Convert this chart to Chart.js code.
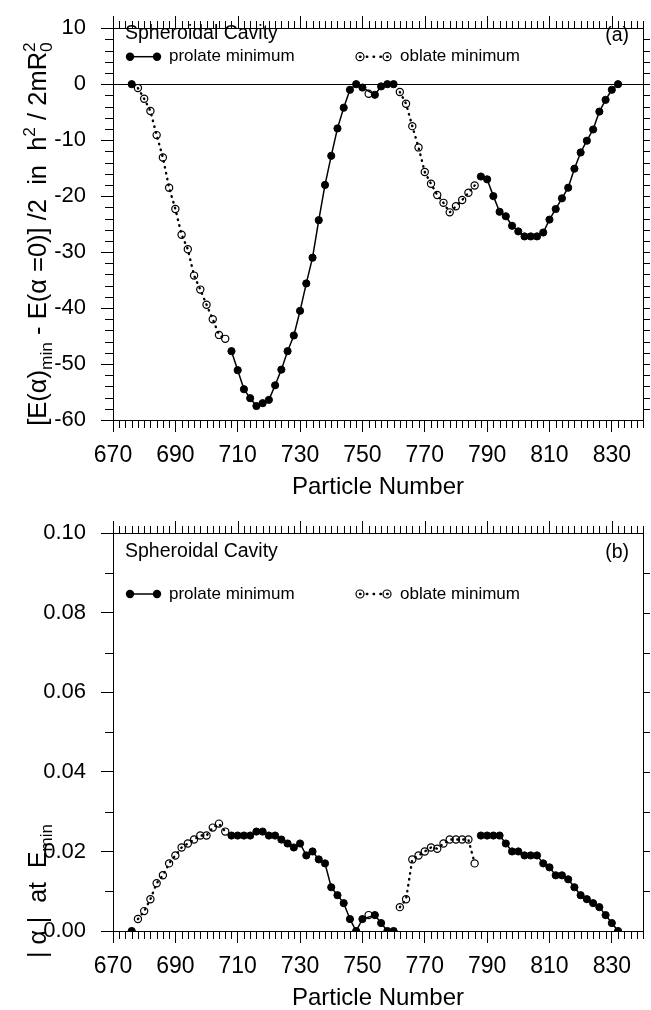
<!DOCTYPE html>
<html><head><meta charset="utf-8">
<script src="https://cdn.jsdelivr.net/npm/chart.js@4.4.1/dist/chart.umd.min.js"></script>
<style>
html,body{margin:0;padding:0;background:#fff;}
#wrap{position:relative;width:651px;height:1010px;overflow:hidden;}
canvas{position:absolute;left:0;}
</style></head><body>
<div id="wrap">
<canvas id="c1" width="651" height="510" style="top:0;width:651px;height:510px"></canvas>
<canvas id="c2" width="651" height="530" style="top:480px;width:651px;height:530px"></canvas>
</div>
<script>
// ---------- data ----------
const particleTicks = [670, 690, 710, 730, 750, 770, 790, 810, 830];
const energyTicks = [10, 0, -10, -20, -30, -40, -50, -60];
const alphaTicks = [0.00, 0.02, 0.04, 0.06, 0.08, 0.10];

// (a) energy, prolate minimum
const energyProlateN = [676, 708, 710, 712, 714, 716, 718, 720, 722, 724, 726, 728, 730, 732, 734, 736, 738, 740, 742, 744, 746, 748, 750, 754, 756, 758, 760,
  788, 790, 792, 794, 796, 798, 800, 802, 804, 806, 808, 810, 812, 814, 816, 818, 820, 822, 824, 826, 828, 830, 832];
const energyProlate = [0, -47.7, -51.1, -54.5, -56.1, -57.5, -57.0, -56.4, -53.8, -51.0, -47.7, -44.9, -40.5, -35.6, -31.0, -24.3, -18.0, -12.8, -7.9, -4.2, -1.0, 0, -0.6, -1.9, -0.4, 0, 0,
  -16.5, -17.0, -20.0, -22.8, -23.6, -25.3, -26.3, -27.2, -27.2, -27.2, -26.5, -24.2, -22.3, -20.4, -18.5, -15.1, -12.2, -10.1, -8.1, -4.9, -2.8, -1.0, 0];
// (a) energy, oblate minimum
const energyOblateN = [678, 680, 682, 684, 686, 688, 690, 692, 694, 696, 698, 700, 702, 704, 706, 752,
  762, 764, 766, 768, 770, 772, 774, 776, 778, 780, 782, 784, 786];
const energyOblate = [-0.7, -2.6, -4.8, -9.1, -13.1, -18.5, -22.3, -26.9, -29.5, -34.2, -36.7, -39.4, -42.0, -44.8, -45.5, -1.7,
  -1.4, -3.5, -7.5, -11.3, -15.7, -17.8, -19.8, -21.2, -22.9, -21.8, -20.7, -19.4, -18.1];

// (b) |alpha| at Emin, prolate minimum
const alphaProlateN = [676, 708, 710, 712, 714, 716, 718, 720, 722, 724, 726, 728, 730, 732, 734, 736, 738, 740, 742, 744, 746, 748, 750, 754, 756, 758, 760,
  788, 790, 792, 794, 796, 798, 800, 802, 804, 806, 808, 810, 812, 814, 816, 818, 820, 822, 824, 826, 828, 830, 832];
const alphaProlate = [0, 0.024, 0.024, 0.024, 0.024, 0.025, 0.025, 0.024, 0.024, 0.023, 0.022, 0.021, 0.022, 0.019, 0.020, 0.018, 0.017, 0.011, 0.009, 0.007, 0.003, 0, 0.003, 0.004, 0.002, 0, 0,
  0.024, 0.024, 0.024, 0.024, 0.022, 0.020, 0.020, 0.019, 0.019, 0.019, 0.017, 0.016, 0.014, 0.014, 0.013, 0.011, 0.009, 0.008, 0.007, 0.006, 0.004, 0.002, 0];
// (b) |alpha| at Emin, oblate minimum
const alphaOblateN = [678, 680, 682, 684, 686, 688, 690, 692, 694, 696, 698, 700, 702, 704, 706, 752,
  762, 764, 766, 768, 770, 772, 774, 776, 778, 780, 782, 784, 786];
const alphaOblate = [0.003, 0.005, 0.008, 0.012, 0.014, 0.017, 0.019, 0.021, 0.022, 0.023, 0.024, 0.024, 0.026, 0.027, 0.025, 0.004,
  0.006, 0.008, 0.018, 0.019, 0.020, 0.021, 0.0207, 0.022, 0.023, 0.023, 0.023, 0.023, 0.017];

// ---------- helpers ----------
const FONT = '"Liberation Sans", Arial, Helvetica, sans-serif';
const pts = (xs, ys) => xs.map((x, i) => ({x: x, y: ys[i]}));

function prolateDs(xs, ys) {
  return {label: 'prolate minimum', data: pts(xs, ys), borderColor: '#000', borderWidth: 1.5,
    pointRadius: 3.6, pointBackgroundColor: '#000', pointBorderColor: '#000', pointBorderWidth: 1,
    spanGaps: 5, tension: 0, fill: false};
}
function oblateDs(xs, ys) {
  return {label: 'oblate minimum', data: pts(xs, ys), borderColor: '#000', borderWidth: 2.4,
    borderDash: [0.5, 5.5], borderCapStyle: 'round',
    pointRadius: 3.6, pointBackgroundColor: 'rgba(255,255,255,0)', pointBorderColor: '#000', pointBorderWidth: 1.2,
    spanGaps: 5, tension: 0, fill: false};
}

function line(ctx, x1, y1, x2, y2) { ctx.beginPath(); ctx.moveTo(x1, y1); ctx.lineTo(x2, y2); ctx.stroke(); }
const al = v => Math.round(v) + 0.5;

function richWidth(ctx, segs, size) {
  let w = 0;
  for (const s of segs) {
    if (s.k === 'n') { ctx.font = size + 'px ' + FONT; w += ctx.measureText(s.t).width; }
    else if (s.k === 'subsup') { ctx.font = (size * 0.68) + 'px ' + FONT; w += Math.max(ctx.measureText(s.t).width, ctx.measureText(s.t2).width); }
    else { ctx.font = (size * 0.68) + 'px ' + FONT; w += ctx.measureText(s.t).width; }
  }
  return w;
}
function drawRich(ctx, segs, size, x, y) {
  ctx.textBaseline = 'alphabetic'; ctx.textAlign = 'left';
  for (const s of segs) {
    if (s.k === 'n') { ctx.font = size + 'px ' + FONT; ctx.fillText(s.t, x, y); x += ctx.measureText(s.t).width; }
    else {
      ctx.font = (size * 0.68) + 'px ' + FONT;
      if (s.k === 'sub') { ctx.fillText(s.t, x, y + size * 0.22); x += ctx.measureText(s.t).width; }
      else if (s.k === 'sup') { ctx.fillText(s.t, x, y - size * 0.42); x += ctx.measureText(s.t).width; }
      else { ctx.fillText(s.t, x, y + size * 0.22); ctx.fillText(s.t2, x, y - size * 0.42);
        x += Math.max(ctx.measureText(s.t).width, ctx.measureText(s.t2).width); }
    }
  }
}

function decoPlugin(o) {
  return {
    id: 'deco',
    afterDraw(chart) {
      const ctx = chart.ctx, a = chart.chartArea, xs = chart.scales.x, ys = chart.scales.y;
      ctx.save();
      ctx.strokeStyle = '#000'; ctx.fillStyle = '#000'; ctx.lineWidth = 1;
      ctx.strokeRect(al(a.left) , al(a.top), Math.round(a.right) - Math.round(a.left), Math.round(a.bottom) - Math.round(a.top));
      for (let v = xs.min; v <= xs.max + 1e-9; v += 2) {
        const px = al(xs.getPixelForValue(v));
        const major = Math.abs((v - 670) % 20) < 1e-6;
        if (!major) line(ctx, px, Math.round(a.bottom), px, Math.round(a.bottom) + 8);
        line(ctx, px, Math.round(a.top), px, Math.round(a.top) - (major ? 12 : 7));
      }
      for (let i = 0; ; i++) {
        const v = ys.min + i * o.yMinor;
        if (v > ys.max + 1e-9) break;
        const py = al(ys.getPixelForValue(v));
        const major = (i % o.yMajorEvery) === 0;
        if (!major) line(ctx, Math.round(a.left), py, Math.round(a.left) - 8, py);
        if (v > ys.min + 1e-9 && v < ys.max - 1e-9) line(ctx, Math.round(a.right), py, Math.round(a.right) + 7, py);
      }
      ctx.textBaseline = 'middle';
      ctx.font = '19.5px ' + FONT; ctx.textAlign = 'left';
      ctx.fillText('Spheroidal Cavity', 125, o.titleY);
      ctx.textAlign = 'right';
      ctx.fillText(o.panel, 629, o.panelY);
      const ly = o.legendY;
      ctx.lineWidth = 1.5; line(ctx, 130, ly, 157, ly);
      ctx.beginPath(); ctx.arc(130, ly, 4.2, 0, Math.PI * 2); ctx.fill();
      ctx.beginPath(); ctx.arc(157, ly, 4.2, 0, Math.PI * 2); ctx.fill();
      ctx.font = '17px ' + FONT; ctx.textAlign = 'left';
      ctx.fillText('prolate minimum', 169, ly);
      ctx.save(); ctx.lineWidth = 2.4; ctx.lineCap = 'round'; ctx.setLineDash([0.5, 6.3]);
      line(ctx, 360, ly, 388, ly); ctx.restore();
      ctx.lineWidth = 1.2;
      ctx.beginPath(); ctx.arc(360, ly, 4, 0, Math.PI * 2); ctx.stroke();
      ctx.beginPath(); ctx.arc(387, ly, 4, 0, Math.PI * 2); ctx.stroke();
      ctx.fillText('oblate minimum', 400, ly);
      ctx.font = '24px ' + FONT; ctx.textAlign = 'center'; ctx.textBaseline = 'middle';
      ctx.fillText('Particle Number', (a.left + a.right) / 2, o.xTitleY);
      ctx.save();
      ctx.translate(o.yTitleX, o.yTitleY);
      ctx.rotate(-Math.PI / 2);
      const w = richWidth(ctx, o.yTitle, o.yTitleSize);
      drawRich(ctx, o.yTitle, o.yTitleSize, -w / 2, o.yTitleSize * 0.36);
      ctx.restore();
      ctx.restore();
    }
  };
}

function makeChart(id, canvasH, plotTop, plotBottom, datasets, yMin, yMax, yTicks, yFmt, deco, zeroLine) {
  return new Chart(document.getElementById(id), {
    type: 'line',
    data: {datasets: datasets},
    options: {
      responsive: false, animation: false, devicePixelRatio: 1,
      layout: {padding: {top: plotTop, left: 0, right: 8, bottom: 0}},
      plugins: {legend: {display: false}, tooltip: {enabled: false}},
      elements: {line: {borderJoinStyle: 'round'}},
      scales: {
        x: {
          type: 'linear', position: 'bottom', min: 670, max: 840,
          afterBuildTicks: s => { s.ticks = particleTicks.map(v => ({value: v})); },
          afterFit: s => { s.height = canvasH - plotBottom; },
          ticks: {color: '#000', font: {family: FONT, size: 23}, padding: 10, autoSkip: false, maxRotation: 0, callback: v => String(v)},
          grid: {display: true, drawOnChartArea: false, drawTicks: true, tickLength: 12, tickColor: '#000', color: 'rgba(0,0,0,0)'},
          border: {display: false}
        },
        y: {
          type: 'linear', position: 'left', min: yMin, max: yMax,
          afterBuildTicks: s => { s.ticks = yTicks.map(v => ({value: v})); },
          afterFit: s => { s.width = 113; },
          ticks: {color: '#000', font: {family: FONT, size: 22}, padding: 15, autoSkip: false, callback: yFmt},
          grid: {display: true, drawOnChartArea: zeroLine, drawTicks: true, tickLength: 12, tickColor: '#000',
            color: c => (zeroLine && c.tick && c.tick.value === 0) ? '#000' : 'rgba(0,0,0,0)', lineWidth: 1},
          border: {display: false}
        }
      }
    },
    plugins: [decoPlugin(deco)]
  });
}

makeChart('c1', 510, 22.7, 420,
  [prolateDs(energyProlateN, energyProlate), oblateDs(energyOblateN, energyOblate)],
  -60, 10, energyTicks, v => String(v),
  {yMinor: 2, yMajorEvery: 5, panel: '(a)', panelY: 36, titleY: 34, legendY: 56.7, xTitleY: 487,
   yTitleX: 37, yTitleY: 234, yTitleSize: 25.5,
   yTitle: [{k: 'n', t: '[E(α)'}, {k: 'sub', t: 'min'}, {k: 'n', t: ' - E(α =0)] /2  in  h'}, {k: 'sup', t: '2'},
            {k: 'n', t: ' / 2mR'}, {k: 'subsup', t: '0', t2: '2'}]},
  true);

makeChart('c2', 530, 53.3, 451,
  [prolateDs(alphaProlateN, alphaProlate), oblateDs(alphaOblateN, alphaOblate)],
  0, 0.1, alphaTicks, v => Number(v).toFixed(2),
  {yMinor: 0.01, yMajorEvery: 2, panel: '(b)', panelY: 73, titleY: 72, legendY: 114, xTitleY: 518,
   yTitleX: 37, yTitleY: 411, yTitleSize: 25,
   yTitle: [{k: 'n', t: '| α |  at  E'}, {k: 'sub', t: 'min'}]},
  false);
</script>
</body></html>
